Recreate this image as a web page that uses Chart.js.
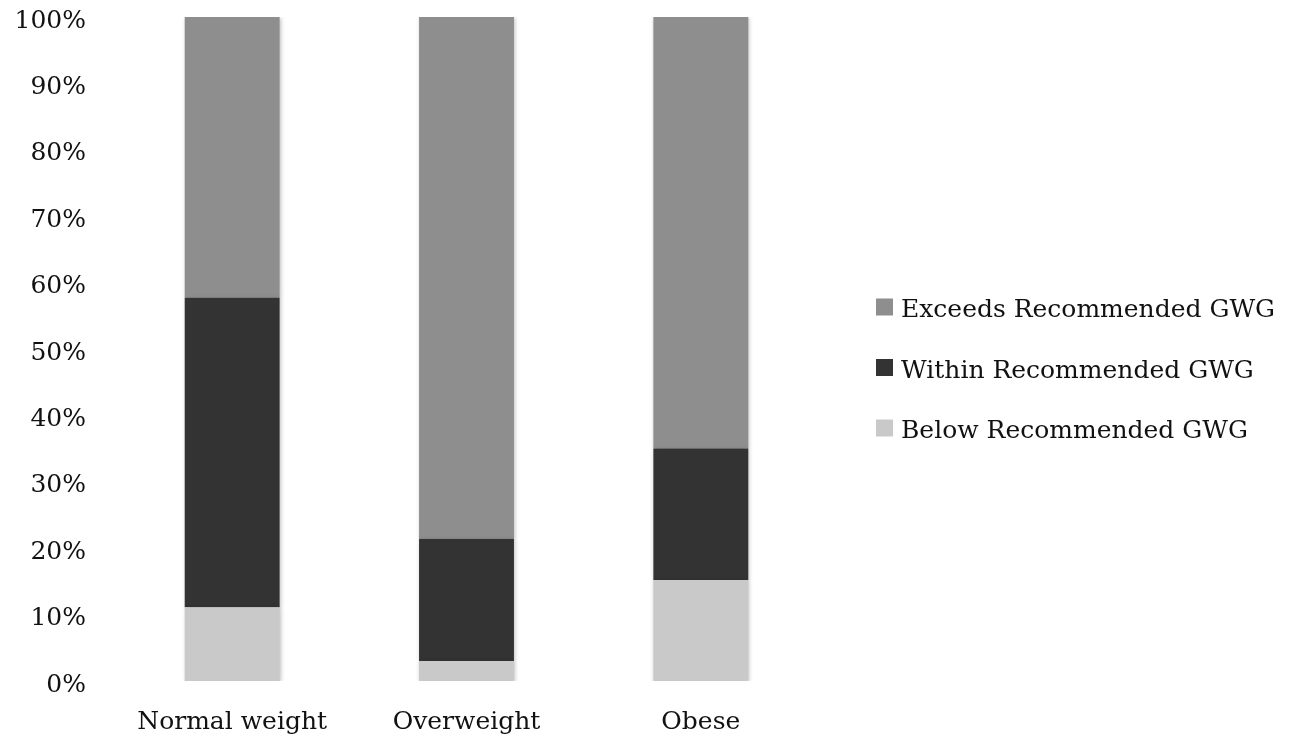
<!DOCTYPE html>
<html>
<head>
<meta charset="utf-8">
<script src="https://cdn.jsdelivr.net/npm/chart.js@4/dist/chart.umd.min.js"></script>
<style>
  html, body { margin: 0; padding: 0; background: #ffffff; overflow: hidden; }
  #wrap { width: 1305px; height: 739px; position: relative; }
</style>
</head>
<body>
<div id="wrap"><canvas id="c" width="1305" height="739"></canvas></div>
<script>
// BMI groups along the x axis
const categories = ['Normal weight', 'Overweight', 'Obese'];

// Share of each group by gestational weight gain category (percent)
const belowGWG   = [11.1, 3.0, 15.2];
const withinGWG  = [46.6, 18.4, 19.8];
const exceedsGWG = [42.3, 78.6, 65.0];

const seriesNames = ['Below Recommended GWG', 'Within Recommended GWG', 'Exceeds Recommended GWG'];
const yTicks = [0, 10, 20, 30, 40, 50, 60, 70, 80, 90, 100];

const FONT = '"DejaVu Serif", "Liberation Serif", serif';
const FONT_SIZE = 25;

// soft drop shadow under the bar segments
const barShadow = {
  id: 'barShadow',
  beforeDatasetsDraw(chart) {
    const ctx = chart.ctx;
    ctx.save();
    ctx.shadowColor = 'rgba(0,0,0,0.25)';
    ctx.shadowBlur = 4;
    ctx.shadowOffsetX = 1;
    ctx.shadowOffsetY = 1;
  },
  afterDatasetsDraw(chart) {
    chart.ctx.restore();
  }
};

// legend drawn to the right of the plot, top entry = top stack segment
const sideLegend = {
  id: 'sideLegend',
  afterDraw(chart) {
    const ctx = chart.ctx;
    const area = chart.chartArea;
    const x0 = area.right + 58;
    const yMid = area.top + 354;
    const step = 60.5;
    const items = chart.data.datasets.slice().reverse();
    ctx.save();
    ctx.font = FONT_SIZE + 'px ' + FONT;
    ctx.textBaseline = 'middle';
    ctx.textAlign = 'left';
    items.forEach((ds, i) => {
      const y = yMid + (i - 1) * step;
      ctx.fillStyle = ds.backgroundColor;
      ctx.fillRect(x0, y - 12, 17, 17);
      ctx.fillStyle = '#111';
      ctx.fillText(ds.label, x0 + 25, y);
    });
    ctx.restore();
  }
};

// fixed axis sizes so the plot box sits where the layout padding puts it
function fixY(axis) {
  axis.width = 101;
  axis.paddingTop = 0; axis.paddingBottom = 0;
  axis.paddingLeft = 0; axis.paddingRight = 0;
}
function fixX(axis) {
  axis.height = 58;
  axis.paddingTop = 0; axis.paddingBottom = 0;
  axis.paddingLeft = 0; axis.paddingRight = 0;
}

new Chart(document.getElementById('c'), {
  type: 'bar',
  data: {
    labels: categories,
    datasets: [
      { label: seriesNames[0], data: belowGWG,   backgroundColor: '#c9c9c9' },
      { label: seriesNames[1], data: withinGWG,  backgroundColor: '#333333' },
      { label: seriesNames[2], data: exceedsGWG, backgroundColor: '#8e8e8e' }
    ]
  },
  options: {
    responsive: false,
    animation: false,
    devicePixelRatio: 1,
    layout: { padding: { left: 14, right: 487, top: 17, bottom: 0 } },
    datasets: { bar: { barPercentage: 0.405, categoryPercentage: 1, borderWidth: 0 } },
    scales: {
      x: {
        stacked: true,
        afterFit: fixX,
        grid: { display: false, drawTicks: false },
        border: { display: false },
        ticks: { color: '#111', font: { family: FONT, size: FONT_SIZE }, padding: 26, maxRotation: 0 }
      },
      y: {
        stacked: true,
        min: 0, max: 100,
        afterFit: fixY,
        afterBuildTicks(axis) { axis.ticks = yTicks.map(v => ({ value: v })); },
        grid: { display: false, drawTicks: false },
        border: { display: false },
        ticks: {
          color: '#111',
          font: { family: FONT, size: FONT_SIZE },
          padding: 29,
          labelOffset: 4,
          callback: v => v + '%'
        }
      }
    },
    plugins: {
      legend: { display: false },
      tooltip: { enabled: false }
    }
  },
  plugins: [barShadow, sideLegend]
});
</script>
</body>
</html>
